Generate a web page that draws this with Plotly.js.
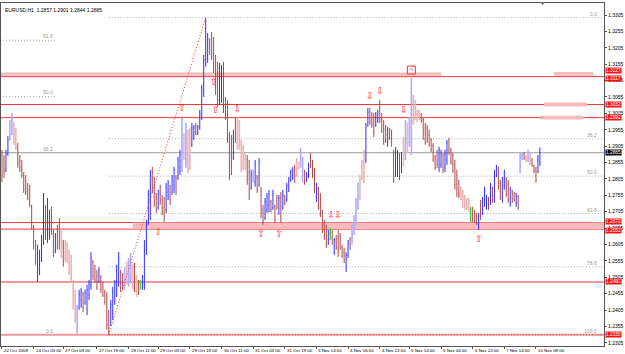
<!DOCTYPE html>
<html><head><meta charset="utf-8">
<script src="https://cdn.plot.ly/plotly-3.0.1.min.js"></script>
<style>html,body{margin:0;padding:0;background:#fff;}#chart{width:625px;height:354px;}</style>
</head><body><div id="chart"></div>
<script>
const chartTitle = "EURUSD,H1  1.2857 1.2901 1.2844 1.2885";

const barOpen = [1.2875,1.2863,1.2833,1.2881,1.2924,1.2961,1.2970,1.2930,1.2906,1.2857,
1.2845,1.2817,1.2778,1.2772,1.2753,1.2723,1.2656,1.2601,1.2521,1.2534,
1.2564,1.2619,1.2711,1.2643,1.2643,1.2698,1.2643,1.2589,1.2631,1.2665,
1.2619,1.2595,1.2589,1.2582,1.2570,1.2543,1.2491,1.2436,1.2345,1.2412,
1.2436,1.2454,1.2427,1.2406,1.2451,1.2482,1.2552,1.2528,1.2509,1.2491,
1.2503,1.2473,1.2460,1.2442,1.2375,1.2360,1.2399,1.2442,1.2467,1.2512,
1.2521,1.2497,1.2473,1.2528,1.2491,1.2503,1.2546,1.2528,1.2497,1.2485,
1.2467,1.2473,1.2479,1.2589,1.2674,1.2741,1.2826,1.2784,1.2753,1.2717,
1.2765,1.2741,1.2717,1.2711,1.2765,1.2784,1.2765,1.2787,1.2808,1.2808,
1.2839,1.2863,1.2939,1.2863,1.2939,1.2924,1.2909,1.2930,1.2967,1.2945,
1.2961,1.3000,1.3070,1.3168,1.3183,1.3229,1.3214,1.3198,1.3144,1.3107,
1.3046,1.3061,1.3131,1.3031,1.3000,1.2930,1.2909,1.2869,1.2970,1.2985,
1.2970,1.2909,1.2894,1.2875,1.2863,1.2826,1.2778,1.2802,1.2796,1.2808,
1.2787,1.2772,1.2711,1.2686,1.2711,1.2726,1.2735,1.2717,1.2720,1.2747,
1.2704,1.2747,1.2717,1.2750,1.2741,1.2778,1.2802,1.2808,1.2833,1.2857,
1.2851,1.2845,1.2808,1.2826,1.2802,1.2817,1.2869,1.2848,1.2817,1.2747,
1.2772,1.2741,1.2701,1.2665,1.2650,1.2607,1.2625,1.2643,1.2582,1.2619,
1.2625,1.2631,1.2598,1.2582,1.2552,1.2573,1.2619,1.2610,1.2650,1.2680,
1.2726,1.2802,1.2833,1.2863,1.2863,1.2970,1.3009,1.3000,1.2985,1.2970,
1.2985,1.3022,1.2991,1.2970,1.2955,1.2918,1.2955,1.2939,1.2887,1.2826,
1.2817,1.2875,1.2833,1.2909,1.2878,1.2961,1.2909,1.2894,1.3046,1.3031,
1.3009,1.3009,1.3000,1.2985,1.2961,1.2955,1.2939,1.2924,1.2906,1.2869,
1.2887,1.2839,1.2848,1.2875,1.2839,1.2863,1.2924,1.2894,1.2875,1.2848,
1.2817,1.2790,1.2775,1.2762,1.2747,1.2741,1.2738,1.2680,1.2711,1.2704,
1.2695,1.2662,1.2726,1.2704,1.2726,1.2720,1.2744,1.2735,1.2775,1.2741,
1.2817,1.2833,1.2790,1.2747,1.2784,1.2802,1.2787,1.2729,1.2765,1.2759,
1.2729,1.2750,1.2833,1.2869,1.2881,1.2875,1.2863,1.2878,1.2863,1.2845,
1.2833,1.2826,1.2857];

const barHigh = [1.2894,1.2878,1.2894,1.2936,1.2985,1.3006,1.2979,1.2961,1.2915,1.2878,
1.2863,1.2826,1.2817,1.2793,1.2787,1.2726,1.2665,1.2619,1.2604,1.2589,
1.2634,1.2762,1.2726,1.2747,1.2711,1.2720,1.2650,1.2640,1.2665,1.2686,
1.2656,1.2619,1.2619,1.2613,1.2589,1.2573,1.2497,1.2467,1.2421,1.2467,
1.2473,1.2460,1.2467,1.2482,1.2497,1.2582,1.2558,1.2543,1.2528,1.2537,
1.2512,1.2491,1.2467,1.2460,1.2406,1.2436,1.2476,1.2497,1.2543,1.2582,
1.2528,1.2518,1.2534,1.2552,1.2564,1.2579,1.2552,1.2549,1.2512,1.2497,
1.2497,1.2512,1.2619,1.2680,1.2772,1.2833,1.2842,1.2811,1.2762,1.2772,
1.2787,1.2756,1.2750,1.2793,1.2802,1.2787,1.2817,1.2842,1.2817,1.2872,
1.2894,1.2991,1.2945,1.2976,1.2955,1.2961,1.2976,1.2970,1.2976,1.2970,
1.3016,1.3092,1.3183,1.3297,1.3250,1.3235,1.3253,1.3238,1.3183,1.3162,
1.3159,1.3153,1.3162,1.3055,1.3046,1.2948,1.2939,1.2955,1.2994,1.2994,
1.2985,1.2924,1.2909,1.2884,1.2878,1.2863,1.2833,1.2833,1.2863,1.2817,
1.2869,1.2781,1.2726,1.2747,1.2762,1.2772,1.2741,1.2772,1.2726,1.2756,
1.2756,1.2765,1.2772,1.2756,1.2793,1.2811,1.2833,1.2842,1.2848,1.2869,
1.2857,1.2900,1.2872,1.2833,1.2826,1.2854,1.2884,1.2863,1.2839,1.2793,
1.2781,1.2762,1.2711,1.2680,1.2665,1.2650,1.2656,1.2650,1.2625,1.2634,
1.2650,1.2640,1.2604,1.2595,1.2582,1.2619,1.2628,1.2665,1.2695,1.2747,
1.2793,1.2817,1.2863,1.2894,1.2976,1.3022,1.3022,1.3009,1.3006,1.3009,
1.3016,1.3046,1.3006,1.2985,1.2970,1.2964,1.2961,1.2955,1.2894,1.2903,
1.2894,1.2884,1.2887,1.2933,1.2985,1.2976,1.2994,1.3113,1.3061,1.3046,
1.3016,1.3016,1.3006,1.2991,1.2976,1.2970,1.2955,1.2930,1.2915,1.2878,
1.2894,1.2903,1.2894,1.2884,1.2894,1.2924,1.2930,1.2900,1.2884,1.2863,
1.2833,1.2802,1.2781,1.2772,1.2756,1.2747,1.2747,1.2720,1.2720,1.2711,
1.2701,1.2701,1.2741,1.2750,1.2781,1.2756,1.2750,1.2793,1.2781,1.2833,
1.2848,1.2842,1.2802,1.2811,1.2833,1.2811,1.2802,1.2781,1.2772,1.2765,
1.2762,1.2756,1.2884,1.2884,1.2887,1.2878,1.2894,1.2884,1.2869,1.2848,
1.2842,1.2878,1.2901];

const barLow = [1.2796,1.2808,1.2826,1.2875,1.2924,1.2939,1.2909,1.2894,1.2839,1.2826,
1.2808,1.2762,1.2756,1.2741,1.2720,1.2650,1.2589,1.2543,1.2491,1.2512,
1.2552,1.2604,1.2619,1.2610,1.2619,1.2634,1.2567,1.2579,1.2589,1.2589,
1.2564,1.2537,1.2552,1.2549,1.2512,1.2491,1.2406,1.2366,1.2332,1.2406,
1.2412,1.2399,1.2421,1.2390,1.2436,1.2467,1.2497,1.2488,1.2467,1.2488,
1.2457,1.2445,1.2421,1.2345,1.2330,1.2357,1.2375,1.2421,1.2445,1.2476,
1.2460,1.2467,1.2467,1.2482,1.2476,1.2491,1.2467,1.2460,1.2445,1.2451,
1.2467,1.2467,1.2467,1.2573,1.2665,1.2680,1.2762,1.2720,1.2701,1.2711,
1.2726,1.2695,1.2674,1.2701,1.2741,1.2726,1.2756,1.2762,1.2756,1.2802,
1.2817,1.2826,1.2863,1.2839,1.2823,1.2833,1.2903,1.2924,1.2939,1.2939,
1.2955,1.2985,1.3055,1.3147,1.3159,1.3183,1.3168,1.3128,1.3061,1.3025,
1.3031,1.3037,1.3006,1.2985,1.2915,1.2802,1.2817,1.2863,1.2915,1.2894,
1.2894,1.2826,1.2833,1.2833,1.2787,1.2741,1.2772,1.2796,1.2781,1.2762,
1.2781,1.2686,1.2665,1.2680,1.2701,1.2704,1.2704,1.2711,1.2671,1.2711,
1.2695,1.2671,1.2711,1.2726,1.2735,1.2765,1.2796,1.2802,1.2793,1.2811,
1.2833,1.2839,1.2796,1.2787,1.2796,1.2808,1.2839,1.2808,1.2762,1.2735,
1.2711,1.2689,1.2640,1.2619,1.2595,1.2604,1.2619,1.2604,1.2573,1.2589,
1.2567,1.2589,1.2564,1.2549,1.2521,1.2564,1.2589,1.2604,1.2634,1.2665,
1.2711,1.2741,1.2802,1.2793,1.2854,1.2964,1.2970,1.2961,1.2933,1.2964,
1.2976,1.2976,1.2945,1.2909,1.2915,1.2903,1.2924,1.2903,1.2793,1.2811,
1.2811,1.2802,1.2823,1.2842,1.2863,1.2884,1.2903,1.2878,1.2970,1.2985,
1.2979,1.2985,1.2976,1.2924,1.2909,1.2915,1.2903,1.2887,1.2857,1.2833,
1.2839,1.2826,1.2839,1.2823,1.2826,1.2848,1.2878,1.2848,1.2823,1.2772,
1.2750,1.2747,1.2741,1.2717,1.2711,1.2711,1.2704,1.2674,1.2674,1.2671,
1.2665,1.2650,1.2680,1.2695,1.2720,1.2711,1.2711,1.2726,1.2732,1.2732,
1.2811,1.2772,1.2741,1.2732,1.2772,1.2750,1.2732,1.2720,1.2732,1.2735,
1.2720,1.2711,1.2823,1.2863,1.2863,1.2857,1.2857,1.2848,1.2842,1.2823,
1.2793,1.2823,1.2844];

const barClose = [1.2814,1.2826,1.2881,1.2924,1.2973,1.2991,1.2924,1.2906,1.2854,1.2839,
1.2817,1.2772,1.2765,1.2747,1.2726,1.2656,1.2601,1.2552,1.2573,1.2564,
1.2619,1.2741,1.2643,1.2726,1.2698,1.2650,1.2582,1.2625,1.2601,1.2613,
1.2582,1.2552,1.2564,1.2558,1.2528,1.2503,1.2421,1.2381,1.2399,1.2454,
1.2460,1.2412,1.2457,1.2467,1.2485,1.2564,1.2509,1.2497,1.2473,1.2528,
1.2467,1.2451,1.2430,1.2360,1.2338,1.2421,1.2460,1.2485,1.2528,1.2564,
1.2473,1.2479,1.2521,1.2491,1.2552,1.2564,1.2482,1.2473,1.2460,1.2460,
1.2491,1.2503,1.2604,1.2662,1.2756,1.2817,1.2778,1.2735,1.2711,1.2759,
1.2741,1.2704,1.2686,1.2778,1.2793,1.2741,1.2802,1.2833,1.2772,1.2863,
1.2878,1.2970,1.2878,1.2961,1.2848,1.2894,1.2961,1.2961,1.2948,1.2964,
1.3003,1.3077,1.3168,1.3266,1.3229,1.3192,1.3183,1.3144,1.3083,1.3046,
1.3138,1.3122,1.3022,1.3000,1.2930,1.2833,1.2839,1.2939,1.2924,1.2909,
1.2903,1.2839,1.2845,1.2842,1.2802,1.2756,1.2817,1.2823,1.2848,1.2772,
1.2857,1.2704,1.2674,1.2735,1.2747,1.2759,1.2711,1.2759,1.2680,1.2720,
1.2747,1.2686,1.2756,1.2732,1.2784,1.2802,1.2826,1.2833,1.2802,1.2820,
1.2839,1.2894,1.2863,1.2796,1.2820,1.2845,1.2848,1.2817,1.2772,1.2781,
1.2726,1.2698,1.2650,1.2631,1.2607,1.2640,1.2650,1.2613,1.2619,1.2595,
1.2582,1.2595,1.2570,1.2558,1.2573,1.2607,1.2601,1.2656,1.2686,1.2735,
1.2778,1.2753,1.2814,1.2808,1.2961,1.3009,1.2979,1.2970,1.2948,1.3000,
1.3009,1.2985,1.2955,1.2924,1.2924,1.2955,1.2930,1.2909,1.2808,1.2887,
1.2878,1.2814,1.2878,1.2863,1.2970,1.2900,1.2985,1.3061,1.2985,1.2997,
1.2985,1.2991,1.2982,1.2936,1.2924,1.2924,1.2909,1.2894,1.2863,1.2839,
1.2848,1.2894,1.2884,1.2833,1.2881,1.2915,1.2887,1.2857,1.2833,1.2787,
1.2762,1.2756,1.2747,1.2726,1.2720,1.2717,1.2711,1.2711,1.2683,1.2677,
1.2671,1.2692,1.2692,1.2741,1.2772,1.2750,1.2720,1.2784,1.2741,1.2820,
1.2842,1.2784,1.2750,1.2802,1.2823,1.2759,1.2741,1.2772,1.2741,1.2741,
1.2753,1.2717,1.2875,1.2878,1.2869,1.2863,1.2887,1.2857,1.2848,1.2829,
1.2802,1.2863,1.2885];

// bar colour class: u/d = normal bar, b/p = light bar, g = green bar
const barStyle = ["dduubbppdd","dddddddduu","uuduuddudd","pdppppppbu","uduuuudddu",
"ddddduuuuu","ddbpbbpdpd","guuuuudddu","ddduuduudu","ubpbppuudu",
"uuuuuddddd","uudddddudp","ppppddubud","udduuududd","ududuuuudp",
"pbbduudddu","dddddugdud","dddduudbbb","bpppuudddu","uddddudddu",
"udupbpbbpp","ppdddddddd","duuduudddd","ddpppppgdd","duduuududu",
"udduuddudd","udbbdpbpdd","duu"].join("");

const timeTickBars = [0,16,31,48,64,79,95,111,127,143,159,175,191,206,222,238,254,270];
const timeTickLabels = ["22 Oct 2008","24 Oct 03:00","27 Oct 03:00","27 Oct 19:00","28 Oct 11:00",
"29 Oct 03:00","29 Oct 19:00","30 Oct 11:00","31 Oct 03:00","31 Oct 19:00","3 Nov 14:00",
"4 Nov 06:00","4 Nov 22:00","5 Nov 14:00","6 Nov 06:00","6 Nov 22:00","7 Nov 14:00","10 Nov 08:00"];

// horizontal levels
const redLevels = [1.3117, 1.3032, 1.2992, 1.2672, 1.2652];
const pinkLevels = [1.2491, 1.2330];
const levelLabels = [1.3127, 1.3117, 1.3032, 1.2992, 1.2672, 1.2652, 1.2491, 1.2330];

// zones: low, high, start bar, end bar
const zoneLow   = [1.3120, 1.3120, 1.3026, 1.2986, 1.2652];
const zoneHigh  = [1.3130, 1.3131, 1.3038, 1.2998, 1.2672];
const zoneStart = [-1, 279, 274, 272, 66];
const zoneEnd   = [222, 299, 296, 294, 306];

// fibonacci
const fibLevels = [0, 38.2, 50, 61.8, 78.6, 100];
const fib1Zero = 1.2330, fib1Full = 1.3783, fib1Start = -1, fib1End = 27;
const fib2ZeroBar = 103, fib2Zero = 1.3297, fib2FullBar = 54, fib2Full = 1.2330;

// signal arrows
const upArrowBars = [79, 91, 107, 108, 131, 140, 241];
const upArrowPrices = [1.2640, 1.3019, 1.3098, 1.3012, 1.2634, 1.2634, 1.2619];
const downArrowBars = [119, 166.4, 169.8, 186, 191, 203];
const downArrowPrices = [1.3016, 1.2692, 1.2692, 1.3055, 1.3070, 1.3012];
const boxBar = [207], boxPrice = [1.3137];

const X_MIN = -0.5, X_MAX = 304.4, Y_MIN = 1.22955, Y_MAX = 1.33416;

function ohlcTrace(keys, up, down, width){
  const idx = [];
  for(let i=0;i<barStyle.length;i++){ if(keys.indexOf(barStyle[i])>=0) idx.push(i); }
  let md = Infinity;
  for(let k=1;k<idx.length;k++) md = Math.min(md, idx[k]-idx[k-1]);
  if(!isFinite(md)) md = 1;
  return {type:'ohlc', x:idx, open:idx.map(i=>barOpen[i]), high:idx.map(i=>barHigh[i]),
    low:idx.map(i=>barLow[i]), close:idx.map(i=>barClose[i]),
    increasing:{line:{color:up, width:width}}, decreasing:{line:{color:down, width:width}},
    tickwidth: Math.min(0.5, 0.25/md), hoverinfo:'skip', showlegend:false};
}

const traces = [
  ohlcTrace('bp', '#adadff', '#ecb4b4', 1.6),
  ohlcTrace('ud', '#2f2fff', '#b04848', 1),
  ohlcTrace('g', '#40d040', '#40d040', 1.4),
  {type:'scatter', mode:'text', x:upArrowBars, y:upArrowPrices, text:upArrowBars.map(()=>'⇧'),
   textfont:{family:'DejaVu Sans', size:9.5, color:'#ff2020'}, hoverinfo:'skip', showlegend:false},
  {type:'scatter', mode:'text', x:downArrowBars, y:downArrowPrices, text:downArrowBars.map(()=>'⇩'),
   textfont:{family:'DejaVu Sans', size:9.5, color:'#ff2020'}, hoverinfo:'skip', showlegend:false},
  {type:'scatter', mode:'markers+text', x:boxBar, y:boxPrice, text:['⇨'],
   textfont:{family:'DejaVu Sans', size:5, color:'#ff2020'},
   marker:{symbol:'square-open', size:8, color:'#ff3030', line:{width:1}}, hoverinfo:'skip', showlegend:false}
];

const shapes = [];
const annotations = [];
for(let k=0;k<zoneLow.length;k++){
  shapes.push({type:'rect', layer:'below', xref:'x', yref:'y', x0:zoneStart[k], x1:zoneEnd[k],
    y0:zoneLow[k], y1:zoneHigh[k], fillcolor:'#f8bcbc', line:{width:0}});
}
redLevels.forEach(v=>shapes.push({type:'line', layer:'below', xref:'paper', yref:'y', x0:0, x1:1, y0:v, y1:v,
  line:{color:'#f03838', width:1}}));
pinkLevels.forEach(v=>shapes.push({type:'line', layer:'below', xref:'paper', yref:'y', x0:0, x1:1, y0:v, y1:v,
  line:{color:'#f49a9a', width:2}}));
const lastClose = barClose[barClose.length-1];
shapes.push({type:'line', layer:'below', xref:'paper', yref:'y', x0:0, x1:1, y0:lastClose, y1:lastClose,
  line:{color:'#9c9c9c', width:1}});
[38.2, 50, 61.8, 0].forEach(l=>{
  const v = fib1Zero + (fib1Full - fib1Zero)*l/100;
  shapes.push({type:'line', layer:'below', xref:'x', yref:'y', x0:fib1Start, x1:fib1End, y0:v, y1:v,
    line:{color:'#a8a8a8', width:1, dash:'1px,2px'}});
  annotations.push({xref:'x', yref:'y', x:fib1End, y:v, text:l.toFixed(1), showarrow:false,
    xanchor:'right', yanchor:'bottom', yshift:-1, font:{family:'Liberation Sans', size:5, color:'#9a9a9a'}});
});
fibLevels.forEach(l=>{
  const v = fib2Zero + (fib2Full - fib2Zero)*l/100;
  shapes.push({type:'line', layer:'below', xref:'x', yref:'y', x0:fib2FullBar, x1:X_MAX, y0:v, y1:v,
    line:{color: l===100 ? '#c84040' : '#a8a8a8', width:1, dash:'1px,2px'}});
  annotations.push({xref:'paper', yref:'y', x:0.992, y:v, text:l.toFixed(1), showarrow:false,
    xanchor:'right', yanchor:'bottom', yshift:-1, font:{family:'Liberation Sans', size:5, color:'#9a9a9a'}});
});
shapes.push({type:'line', xref:'x', yref:'y', x0:fib2FullBar, y0:fib2Full, x1:fib2ZeroBar, y1:fib2Zero,
  line:{color:'#ff2a2a', width:1, dash:'1px,2px'}});

// level price boxes (the two close pairs are stacked apart like the reference's boxes)
const labelNudge = {"1.3127":2.5, "1.3117":-2, "1.2672":1.5, "1.2652":-1.5};
levelLabels.forEach(v=>annotations.push({xref:'paper', yref:'y', x:1, y:v, text:v.toFixed(4), showarrow:false,
  xanchor:'left', yanchor:'middle', bgcolor:'#ff1010', borderpad:0, xshift:1, yshift:labelNudge[v.toFixed(4)]||0,
  font:{family:'Liberation Sans', size:4.8, color:'#ffffff'}}));
annotations.push({xref:'paper', yref:'y', x:1, y:lastClose, text:lastClose.toFixed(4), showarrow:false,
  xanchor:'left', yanchor:'middle', bgcolor:'#000000', borderpad:0, xshift:1,
  font:{family:'Liberation Sans', size:4.8, color:'#ffffff'}});
annotations.push({xref:'paper', yref:'paper', x:0, y:1, xshift:2, yshift:-2, text:chartTitle, showarrow:false,
  xanchor:'left', yanchor:'top', font:{family:'Liberation Sans', size:5, color:'#000000'}});
annotations.push({xref:'paper', yref:'paper', x:0.899, y:1, text:'▼', showarrow:false, xanchor:'center',
  yanchor:'middle', font:{family:'DejaVu Sans', size:4, color:'#707070'}});
// time labels, left-aligned at their tick marks just below the frame
timeTickBars.forEach((b,k)=>annotations.push({xref:'x', yref:'paper', x:b, y:0, text:timeTickLabels[k],
  showarrow:false, xanchor:'left', yanchor:'top', xshift:0, yshift:0,
  font:{family:'Liberation Sans', size:4.4, color:'#000000'}}));

const layout = {
  width:625, height:354, margin:{l:1, r:21, t:3, b:8, pad:0},
  paper_bgcolor:'#ffffff', plot_bgcolor:'#ffffff', showlegend:false,
  font:{family:'Liberation Sans', size:5, color:'#000'},
  xaxis:{type:'linear', range:[X_MIN, X_MAX], rangeslider:{visible:false}, showgrid:false, zeroline:false,
    tickmode:'array', tickvals:timeTickBars, showticklabels:false,
    ticks:'outside', ticklen:2, tickcolor:'#555',
    showline:true, linecolor:'#555', linewidth:1, mirror:true, fixedrange:true, automargin:false},
  yaxis:{range:[Y_MIN, Y_MAX], side:'right', showgrid:false, zeroline:false, tick0:1.2305, dtick:0.005,
    tickformat:'.4f', ticks:'outside', ticklen:2, tickcolor:'#555', tickfont:{size:5, color:'#000'},
    showline:true, linecolor:'#555', linewidth:1, mirror:true, fixedrange:true, automargin:false},
  shapes:shapes, annotations:annotations
};
Plotly.newPlot('chart', traces, layout, {staticPlot:true, displayModeBar:false});
</script>
</body></html>
